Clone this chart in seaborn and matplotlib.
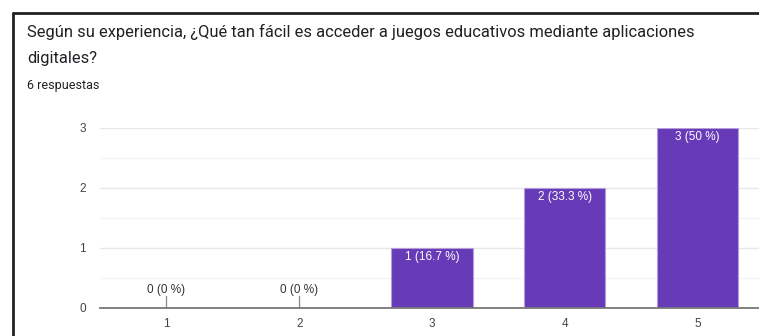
import numpy as np
import pandas as pd
import seaborn as sns
from matplotlib import pyplot as plt
from matplotlib.lines import Line2D

# data
categories = ["1", "2", "3", "4", "5"]
counts = [0, 0, 1, 2, 3]
percents = ["0 %", "0 %", "16.7 %", "33.3 %", "50 %"]
title = "Según su experiencia, ¿Qué tan fácil es acceder a juegos educativos mediante aplicaciones\ndigitales?"
subtitle = "6 respuestas"

df = pd.DataFrame({"opcion": categories, "n": counts})

sns.set_theme(style="white")
plt.rcParams["font.family"] = ["Liberation Sans", "DejaVu Sans"]

fig = plt.figure(figsize=(7.59, 3.36), dpi=100)
ax = fig.add_axes([100 / 759, 28 / 336, 664 / 759, 180 / 336])

purple = "#673ab7"
sns.barplot(data=df, x="opcion", y="n", order=categories, color=purple,
            width=0.61, edgecolor="#b39ddb", linewidth=0.8, saturation=1, ax=ax)

ax.set_xlim(-0.5, 4.5)
ax.set_ylim(0, 3)
ax.set_yticks([0, 1, 2, 3])
ax.set_yticks([0.5, 1.5, 2.5], minor=True)
ax.grid(axis="y", which="major", color="#e8e8e8", linewidth=1)
ax.grid(axis="y", which="minor", color="#f4f4f4", linewidth=1)
ax.set_axisbelow(True)
for s in ["top", "right", "left"]:
    ax.spines[s].set_visible(False)
ax.spines["bottom"].set_color("#777777")
ax.spines["bottom"].set_linewidth(1.3)
ax.set_xlabel("")
ax.set_ylabel("")
ax.tick_params(axis="both", which="both", length=0, labelsize=8.5, colors="#444444")
ax.tick_params(axis="y", pad=10)
ax.tick_params(axis="x", pad=7)

# labels
for i, (c, p) in enumerate(zip(counts, percents)):
    lab = f"{c} ({p})"
    if c == 0:
        ax.plot([i, i], [0, 0.2], color="#888888", linewidth=0.9, clip_on=False)
        ax.text(i, 0.3, lab, ha="center", va="center", fontsize=8.5, color="#333333")
    else:
        ax.text(i, c - 0.05, lab, ha="center", va="top", fontsize=8.5, color="white")

# header text
lines = title.split("\n")
fig.text(27 / 759, 1 - 32 / 336, lines[0], ha="left", va="center", fontsize=11.9,
         family=["Roboto", "DejaVu Sans"], color="#202124")
fig.text(27 / 759, 1 - 59 / 336, lines[1], ha="left", va="center", fontsize=11.9,
         family=["Roboto", "DejaVu Sans"], color="#202124")
fig.text(27 / 759, 1 - 85 / 336, subtitle, ha="left", va="center", fontsize=9,
         family=["Roboto", "DejaVu Sans"], color="#202124")

# card border (top and left)
fig.add_artist(Line2D([13 / 759, 1.0], [1 - 13 / 336, 1 - 13 / 336], color="#222222", linewidth=2,
                      transform=fig.transFigure))
fig.add_artist(Line2D([13 / 759, 13 / 759], [0, 1 - 13 / 336], color="#222222", linewidth=2,
                      transform=fig.transFigure))

fig.savefig("out.png", dpi=100)
